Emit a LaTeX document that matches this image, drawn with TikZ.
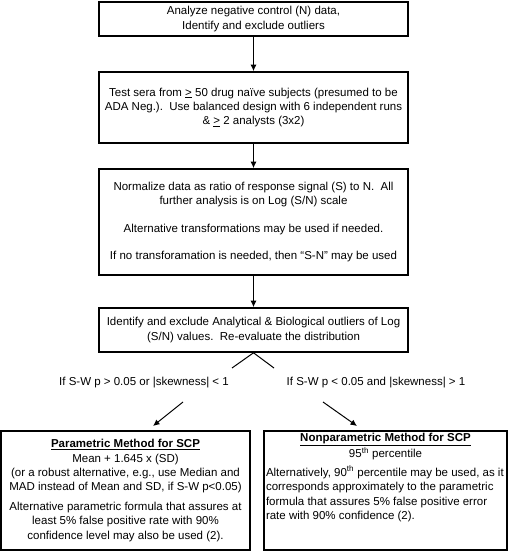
\documentclass[tikz,border=0pt]{standalone}
\usepackage{fontspec}
\setmainfont{Liberation Sans}
\usetikzlibrary{arrows.meta}
\begin{document}
\begin{tikzpicture}[x=1pt,y=-1pt,
  txt/.style={font=\fontsize{11.5}{14.4}\selectfont},
  box/.style={draw, line width=1.6pt, inner sep=0pt, align=center, txt},
  arr/.style={-{Latex[length=6.5pt,width=6pt]}, line width=1pt},
  conn/.style={line width=1pt},
  lab/.style={inner sep=0pt, txt}]
\useasboundingbox (0,0) rectangle (517,553);
\node[box, minimum width=309pt, minimum height=34pt] (b1) at (253.5,19)
  {Analyze negative control (N) data,\\Identify and exclude outliers};
\node[box, minimum width=309pt, minimum height=71pt] (b2) at (253.5,107.5)
  {Test sera from \underline{>} 50 drug naïve subjects (presumed to be\\
   ADA Neg.).\ \ Use balanced design with 6 independent runs\\
   \& \underline{>} 2 analysts (3x2)};
\node[box, minimum width=309pt, minimum height=106pt] (b3) at (253.5,222)
  {Normalize data as ratio of response signal (S) to N.\ \ All\\
   further analysis is on Log (S/N) scale\\[13pt]
   Alternative transformations may be used if needed.\\[13pt]
   If no transforamation is needed, then ``S-N'' may be used};
\node[box, minimum width=309pt, minimum height=44pt] (b4) at (253.5,330)
  {Identify and exclude Analytical \& Biological outliers of Log\\
   (S/N) values.\ \ Re-evaluate the distribution};
\draw[arr] (b1.south) -- (b2.north);
\draw[arr] (b2.south) -- (b3.north);
\draw[arr] (b3.south) -- (b4.north);
\coordinate (c1) at (232,368);
\coordinate (c2) at (274,368);
\draw[conn] (b4.south) -- (c1);
\draw[conn] (b4.south) -- (c2);
\node[lab] (l1) at (144,383) {If S-W p > 0.05 or |skewness| < 1};
\node[lab] (l2) at (376,383) {If S-W p < 0.05 and |skewness| > 1};
\node[box, minimum width=249pt, minimum height=119pt] (b5) at (125.5,490.5)
  {\underline{\textbf{Parametric Method for SCP}}\\
   Mean + 1.645 x (SD)\\
   (or a robust alternative, e.g., use Median and\\
   MAD instead of Mean and SD, if S-W p<0.05)\\[5pt]
   Alternative parametric formula that assures at\\
   least 5\% false positive rate with 90\%\\
   confidence level may also be used (2).};
\node[box, minimum width=243pt, minimum height=119pt] (b6) at (385.5,490.5)
  {\parbox[c][114pt][t]{239pt}{%
   {\centering\underline{\textbf{Nonparametric Method for SCP}}\\
    95\textsuperscript{th} percentile\par}
   \vspace{4.5pt}
   {\raggedright
    \mbox{Alternatively, 90\textsuperscript{th} percentile may be used, as it}\\
    \mbox{corresponds approximately to the parametric}\\
    \mbox{formula that assures 5\% false positive error}\\
    \mbox{rate with 90\% confidence (2).}\par}}};
\coordinate (a1s) at (183,402);
\coordinate (a1e) at (153,426);
\coordinate (a2s) at (323,402);
\coordinate (a2e) at (357,426);
\draw[arr] (a1s) -- (a1e);
\draw[arr] (a2s) -- (a2e);
\end{tikzpicture}
\end{document}
